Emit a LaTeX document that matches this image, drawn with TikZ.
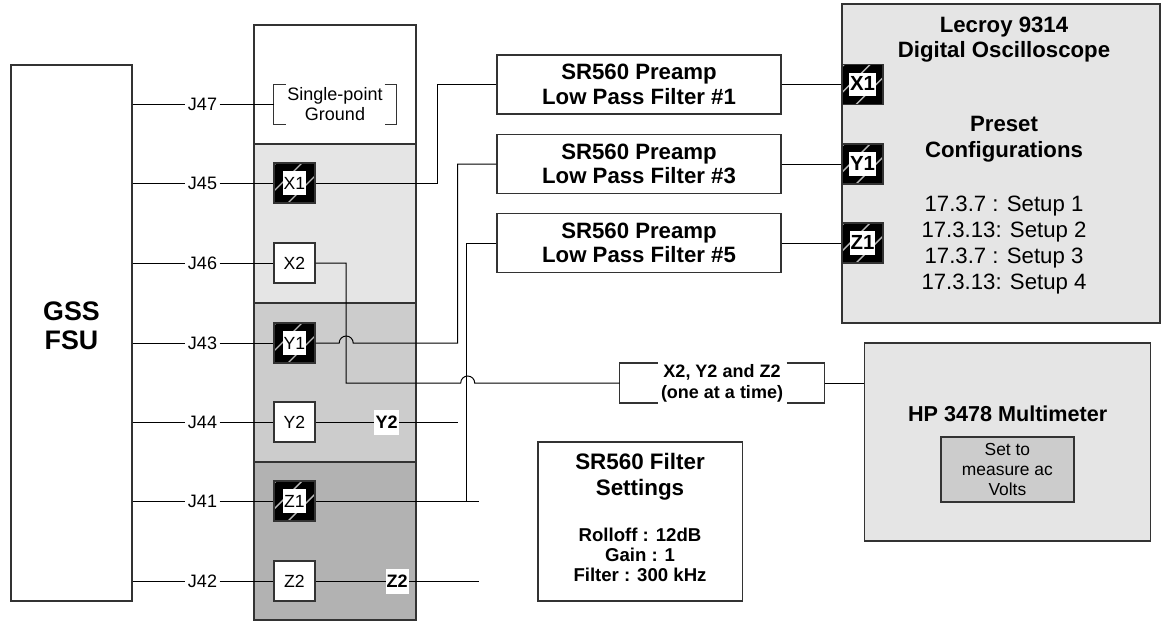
\documentclass[tikz,border=0pt]{standalone}
\usepackage{fontspec}
\setmainfont{Liberation Sans}
\definecolor{bandlight}{gray}{0.9}
\definecolor{bandmid}{gray}{0.8}
\definecolor{banddark}{gray}{0.7}
\definecolor{edgegray}{gray}{0.2}
\newcommand{\plabel}[1]{{\setlength{\fboxsep}{0.4pt}\colorbox{white}{\rule[-2.5pt]{0pt}{11pt}#1}}}
\newcommand{\fsz}[2]{\fontsize{#1}{#2}\selectfont}

\begin{document}
\begin{tikzpicture}[x=0.5pt, y=-0.5pt, line width=0.5pt,
    box/.style={draw=edgegray, line width=0.7pt, inner sep=0pt},
    port/.style={box, fill=white, minimum width=20.5pt, minimum height=20pt, font=\fsz{8.8}{10}},
    hot port/.style={port, fill=black, path picture={
        \foreach \d in {-19,-6,7}
          \draw[gray!55, line width=0.7pt]
            ([xshift=\d pt]path picture bounding box.south west) -- ++(30pt,30pt);}},
    jack/.style={inner sep=1pt, font=\fsz{9}{10}},
    filter/.style={box, fill=white, minimum width=142pt, minimum height=29.5pt,
      align=center, font=\bfseries\fsz{11.1}{12.2}},
    tag/.style={fill=white, inner xsep=0.6pt, inner ysep=0pt, minimum height=12.5pt,
      font=\bfseries\fsz{9}{10}},
    bracket/.style={draw=edgegray, line width=0.6pt}]

  \useasboundingbox (0,0) rectangle (1161,621);

  % ===== Ground support unit =====
  \node[box, fill=white, minimum width=60.5pt, minimum height=268pt] (gss) at (71.5,333) {};
  \node[font=\bfseries\fsz{13.4}{14.5}, align=center] (gsstext) at (71.5,326) {GSS\\FSU};

  % ===== Breakout column =====
  \foreach \ytop/\ybot/\fillc in {25/144/white, 144/303/bandlight, 303/462/bandmid, 462/620/banddark}
    \filldraw[fill=\fillc, draw=edgegray, line width=0.7pt] (254,\ytop) rectangle (416,\ybot);

  % single-point ground, bracketed
  \node[minimum width=61pt, minimum height=19.5pt, inner sep=0pt, align=center, font=\fsz{9}{9.9}]
    (gnd) at (335,104.3) {Single-point\\Ground};
  \draw[bracket] ([xshift=6pt]gnd.north west) -- (gnd.north west)
    -- (gnd.south west) -- ([xshift=6pt]gnd.south west);
  \draw[bracket] ([xshift=-6pt]gnd.north east) -- (gnd.north east)
    -- (gnd.south east) -- ([xshift=-6pt]gnd.south east);

  % signal ports
  \node[hot port] (X1) at (294.5,183) {\plabel{X1}};
  \node[port]     (X2) at (294.5,263) {\plabel{X2}};
  \node[hot port] (Y1) at (294.5,343) {\plabel{Y1}};
  \node[port]     (Y2) at (294.5,422) {\plabel{Y2}};
  \node[hot port] (Z1) at (294.5,501) {\plabel{Z1}};
  \node[port]     (Z2) at (294.5,581) {\plabel{Z2}};

  % jacks and leads from the FSU
  \foreach \j/\y in {J47/104.3, J45/183, J46/263, J43/343, J44/422, J41/501, J42/581}
  {
    \node[jack] (\j) at (202.5,\y) {\j};
    \draw (gss.east |- \j.west) -- (\j.west);
  }
  \draw (J47.east) -- (gnd.west);
  \foreach \j/\p in {J45/X1, J46/X2, J43/Y1, J44/Y2, J41/Z1, J42/Z2}
    \draw (\j.east) -- (\p.west);

  % ===== SR560 preamps =====
  \node[filter] (f1) at (639,84.5) {SR560 Preamp\\Low Pass Filter \#1};
  \node[filter] (f3) at (639,164)  {SR560 Preamp\\Low Pass Filter \#3};
  \node[filter] (f5) at (639,243)  {SR560 Preamp\\Low Pass Filter \#5};

  % ===== Oscilloscope =====
  \node[box, fill=bandlight, minimum width=159pt, minimum height=159.5pt] (scope) at (1001,163.5) {};
  \node[font=\bfseries\fsz{11.1}{12.5}, align=center] (scopetitle) at (1004,40)
    {Lecroy 9314\\Digital Oscilloscope};
  \node[font=\bfseries\fsz{11.1}{13}, align=center] (presets) at (1004,139)
    {Preset\\Configurations};
  \node[font=\fsz{11.1}{13}, align=center] (setups) at (1004,245.5)
    {17.3.7 : Setup 1\\17.3.13: Setup 2\\17.3.7 : Setup 3\\17.3.13: Setup 4};
  \node[hot port, font=\bfseries\fsz{10.2}{11}] (sX1) at (862.5,84.5) {\plabel{X1}};
  \node[hot port, font=\bfseries\fsz{10.2}{11}] (sY1) at (862.5,164)  {\plabel{Y1}};
  \node[hot port, font=\bfseries\fsz{10.2}{11}] (sZ1) at (862.5,243)  {\plabel{Z1}};

  % ===== Multimeter and selector =====
  \node[minimum width=102pt, minimum height=19.5pt, inner sep=0pt, align=center,
    font=\bfseries\fsz{9}{10.4}] (sw) at (722,383) {X2, Y2 and Z2\\(one at a time)};
  \draw[bracket] ([xshift=19pt]sw.north west) -- (sw.north west)
    -- (sw.south west) -- ([xshift=19pt]sw.south west);
  \draw[bracket] ([xshift=-19pt]sw.north east) -- (sw.north east)
    -- (sw.south east) -- ([xshift=-19pt]sw.south east);

  \node[box, fill=bandlight, minimum width=143pt, minimum height=99pt] (meter) at (1007.7,442) {};
  \node[font=\bfseries\fsz{10.8}{12}] (metertitle) at (1007.7,414.2) {HP 3478 Multimeter};
  \node[box, fill=bandmid, minimum width=66.4pt, minimum height=32.5pt, align=center,
    font=\fsz{8.7}{10.2}] (meterset) at (1007.4,469.5) {Set to\\measure ac\\Volts};

  % ===== Filter settings note =====
  \node[box, fill=white, minimum width=102.2pt, minimum height=79.5pt] (fset) at (640,521.5) {};
  \node[font=\bfseries\fsz{11.2}{13}, align=center] (fsettitle) at (640,476.4)
    {SR560 Filter\\Settings};
  \node[font=\bfseries\fsz{9.3}{9.9}, align=center] (fsetlist) at (640,554.6)
    {Rolloff : 12dB\\Gain : 1\\Filter : 300 kHz};

  % ===== Wiring =====
  \draw (f1.east) -- (sX1.west);
  \draw (f3.east) -- (sY1.west);
  \draw (f5.east) -- (sZ1.west);
  \draw (X1.east) -- ++(122,0) |- (f1.west);
  % Y1 hops over the X2 lead
  \draw (Y1.east) -- ++(23.5,0) arc[start angle=180, end angle=360, radius=7]
    -- ++(104.5,0) |- (f3.west);
  \draw (f5.west) -- ++(-30,0) |- (Z1.east);
  \draw (Z1.east) -- ++(163,0);
  % X2 hops over the filter #5 lead
  \draw (X2.east) -- ++(30.5,0) -- ++(0,120) -- ++(114.5,0)
    arc[start angle=180, end angle=360, radius=7] -- (sw.west);
  \draw (sw.east) -- (sw.east -| meter.west);
  \draw (Y2.east) -- ++(142,0) node[tag, midway] (tagY2) {Y2};
  \draw (Z2.east) -- ++(163,0) node[tag, midway] (tagZ2) {Z2};

\end{tikzpicture}
\end{document}
